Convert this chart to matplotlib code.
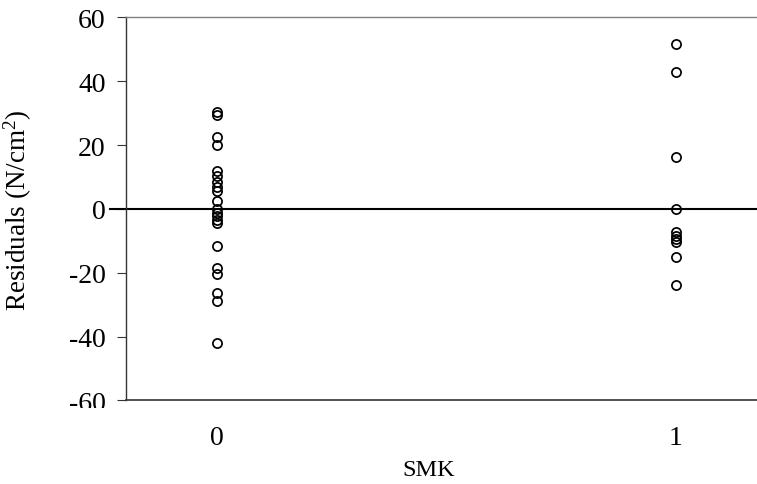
import matplotlib
matplotlib.use("Agg")
import matplotlib.pyplot as plt
from matplotlib.transforms import Bbox

plt.rcParams['font.family'] = ['Liberation Serif', 'DejaVu Serif']
plt.rcParams['mathtext.fontset'] = 'custom'
plt.rcParams['mathtext.rm'] = 'Liberation Serif'
plt.rcParams['mathtext.it'] = 'Liberation Serif:italic'

# Residuals by smoking status (SMK = 0 / 1)
resid_smk0 = [30.5, 29.5, 22.5, 20.0, 12.0, 10.2, 8.6, 7.0, 5.5, 2.6, 0.0,
              -1.2, -2.3, -3.3, -4.4, -11.6, -18.5, -20.3, -26.3, -28.8, -42.0]
resid_smk1 = [51.7, 42.8, 16.4, 0.0, -7.3, -8.4, -9.4, -10.3, -14.9, -23.8]
groups = [0, 1]
yticks = [-60, -40, -20, 0, 20, 40, 60]

fig = plt.figure(figsize=(7.57, 4.85), dpi=100)
ax = fig.add_axes([0.1664, 0.1722, 0.8336, 0.7897])

for g, vals in zip(groups, [resid_smk0, resid_smk1]):
    ax.plot([g] * len(vals), vals, linestyle='none', marker='o', ms=6.6,
            mfc='none', mec='black', mew=1.25, zorder=3)

# zero reference line
ax.plot([-0.025, 1.0], [0, 0], transform=ax.get_yaxis_transform(),
        color='black', lw=1.5, clip_on=False, zorder=2)

ax.set_xlim(-0.198, 1.177)
ax.set_ylim(-60, 60)
ax.set_yticks(yticks)
ax.set_yticklabels([str(t) for t in yticks])
ax.set_xticks(groups)
ax.set_xticklabels([str(g) for g in groups])

ax.tick_params(axis='y', direction='out', length=6.5, width=0.8, pad=8,
               labelsize=20, color='#333333')
ax.tick_params(axis='x', length=0, pad=18, labelsize=20)

# the lowest y label is cut off just below the baseline of the plot frame
for tick in ax.yaxis.get_major_ticks():
    if tick.get_loc() == -60:
        tick.label1.set_clip_box(Bbox([[0, 76], [757, 485]]))
        tick.label1.set_clip_on(True)

ax.spines['right'].set_visible(False)
ax.spines['top'].set_color('#808080')
ax.spines['top'].set_linewidth(1.0)
ax.spines['left'].set_color('#333333')
ax.spines['left'].set_linewidth(1.0)
ax.spines['bottom'].set_color('#333333')
ax.spines['bottom'].set_linewidth(1.2)

ax.set_ylabel(r'Residuals (N/cm$^{2}$)', fontsize=19.5)
ax.yaxis.set_label_coords(-0.145, 0.5)
ax.set_xlabel('SMK', fontsize=17.5, va='center')
ax.xaxis.set_label_coords(0.479, -0.180)

fig.savefig('out.png', dpi=100)
